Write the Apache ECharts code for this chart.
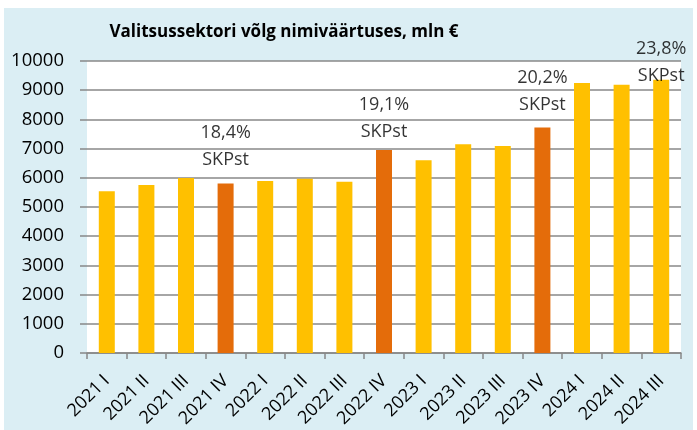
<!DOCTYPE html>
<html>
<head>
<meta charset="utf-8">
<script src="https://cdn.jsdelivr.net/npm/echarts@6/dist/echarts.min.js"></script>
<style>
html,body{margin:0;padding:0;background:#fff;}
#c{width:697px;height:430px;}
</style>
</head>
<body>
<div id="c"></div>
<script>
const titleText = 'Valitsussektori võlg nimiväärtuses, mln €';
const categories = ['2021 I','2021 II','2021 III','2021 IV','2022 I','2022 II','2022 III','2022 IV','2023 I','2023 II','2023 III','2023 IV','2024 I','2024 II','2024 III'];
const debtValues = [5540, 5750, 5990, 5800, 5890, 5970, 5860, 6950, 6600, 7150, 7090, 7720, 9250, 9190, 9360];
const yTicks = [0, 1000, 2000, 3000, 4000, 5000, 6000, 7000, 8000, 9000, 10000];
const annotCategories = ['2021 IV', '2022 IV', '2023 IV', '2024 III'];
const annotPercents = ['18,4%', '19,1%', '20,2%', '23,8%'];
const annotUnit = 'SKPst';
const annotYValues = [7070, 8030, 8970, 9950];

const FONT = '"Open Sans", "Noto Sans", sans-serif';
const YELLOW = '#FFC000';
const ORANGE = '#E46C0A';
const GRID = '#888888';

const chart = echarts.init(document.getElementById('c'), null, {renderer: 'canvas'});
chart.setOption({
  animation: false,
  backgroundColor: '#ffffff',
  graphic: [{
    type: 'rect', z: -10, silent: true,
    shape: {x: 4, y: 8, width: 689, height: 422},
    style: {fill: '#DBEEF4'}
  }],
  title: {
    text: titleText,
    left: 279, top: 19, textAlign: 'center',
    textStyle: {fontFamily: FONT, fontWeight: 'bold', fontSize: 17, color: '#000'}
  },
  grid: {
    left: 87, right: 16, top: 61, bottom: 77,
    show: true, backgroundColor: '#ffffff', borderWidth: 0,
    containLabel: false
  },
  xAxis: {
    type: 'category',
    data: categories,
    axisLine: {lineStyle: {color: GRID, width: 1.5}},
    axisTick: {show: true, length: 6, lineStyle: {color: GRID, width: 1.5}},
    axisLabel: {rotate: 45, margin: 25, fontFamily: FONT, fontSize: 18, color: '#000', interval: 0}
  },
  yAxis: {
    type: 'value',
    min: yTicks[0], max: yTicks[yTicks.length - 1], interval: yTicks[1] - yTicks[0],
    axisLine: {show: false},
    axisTick: {show: true, length: 7, lineStyle: {color: GRID, width: 1.5}},
    splitLine: {lineStyle: {color: GRID, width: 1.5}},
    axisLabel: {margin: 23, fontFamily: FONT, fontSize: 18.5, color: '#000',
      formatter: function (v) { return String(v); }}
  },
  series: [{
    type: 'bar',
    data: debtValues,
    barWidth: 16,
    itemStyle: {
      color: function (p) { return /\sIV$/.test(p.name) ? ORANGE : YELLOW; }
    }
  }, {
    type: 'scatter',
    symbolSize: 0,
    silent: true,
    data: annotCategories.map(function (c, i) { return {value: [c, annotYValues[i]], name: annotPercents[i]}; }),
    label: {
      show: true, position: 'inside',
      formatter: function (p) { return p.name + '\n' + annotUnit; },
      fontFamily: FONT, fontSize: 18, lineHeight: 27, color: '#000', align: 'center', verticalAlign: 'middle'
    },
    z: 5
  }]
});
</script>
</body>
</html>
